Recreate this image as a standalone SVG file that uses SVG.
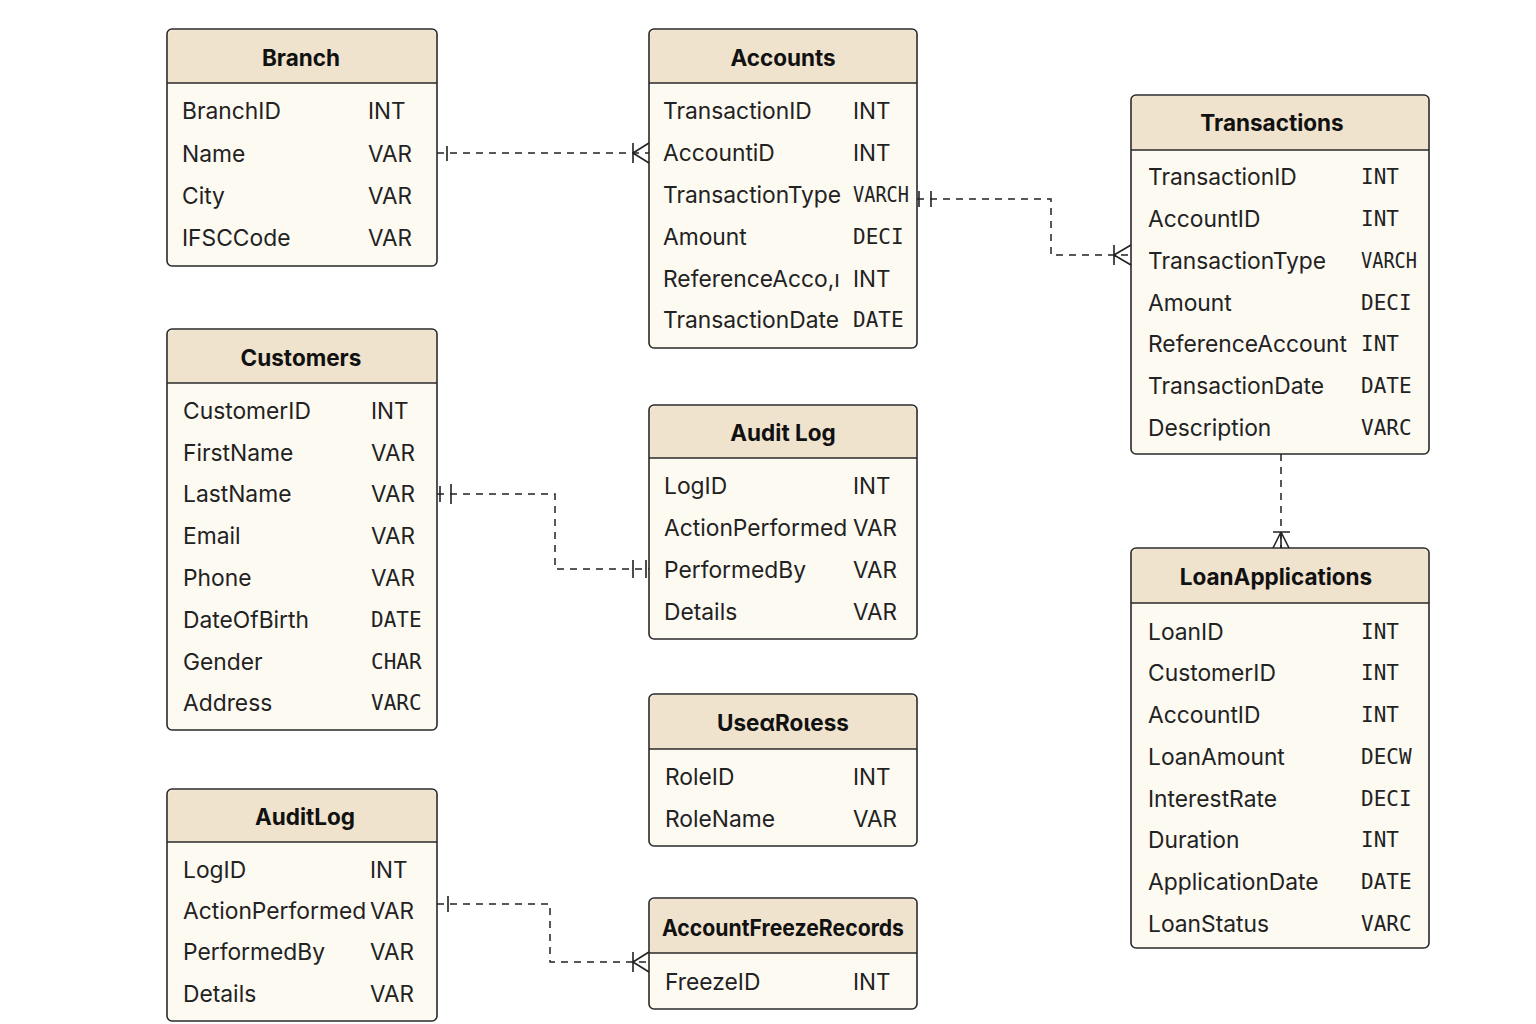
<svg xmlns="http://www.w3.org/2000/svg" width="1536" height="1024" viewBox="0 0 1536 1024">
<style>
.box{fill:#fdfaf2;stroke:#2a2a2a;stroke-width:1.6}
.hdr{fill:#efe3cd}
.sep{stroke:#2a2a2a;stroke-width:1.6}
.title{font-family:Inter,"Noto Sans",sans-serif;font-weight:700;font-size:22.5px;fill:#111;text-anchor:middle}
.f{font-family:Inter,"Noto Sans",sans-serif;font-size:22.8px;fill:#222}
.t{font-family:"DejaVu Sans Mono","Liberation Mono",monospace;font-size:21px;fill:#222}
.ts{font-family:Inter,"Noto Sans",sans-serif;font-size:22.5px;fill:#222}
.c{fill:none;stroke:#222;stroke-width:1.5;stroke-dasharray:7,6}
.m{fill:none;stroke:#222;stroke-width:1.6}
</style>
<rect width="1536" height="1024" fill="#ffffff"/>

<g id="branch">
<rect class="box" x="167" y="29" width="270" height="237" rx="5"/>
<path class="hdr" d="M168,83 V35 a5,5 0 0 1 5,-5 H431 a5,5 0 0 1 5,5 V83 Z"/>
<line class="sep" x1="167" y1="83" x2="437" y2="83"/>
<text class="title" x="301" y="66">Branch</text>
<text class="f" x="182" y="119">BranchID</text><text class="ts" x="368" y="119">INT</text>
<text class="f" x="182" y="162">Name</text><text class="ts" x="368" y="162">VAR</text>
<text class="f" x="182" y="204">City</text><text class="ts" x="368" y="204">VAR</text>
<text class="f" x="182" y="246">IFSCCode</text><text class="ts" x="368" y="246">VAR</text>
</g>

<g id="accounts">
<rect class="box" x="649" y="29" width="268" height="319" rx="5"/>
<path class="hdr" d="M650,83 V35 a5,5 0 0 1 5,-5 H911 a5,5 0 0 1 5,5 V83 Z"/>
<line class="sep" x1="649" y1="83" x2="917" y2="83"/>
<text class="title" x="783" y="66">Accounts</text>
<text class="f" x="663" y="119">TransactionID</text><text class="ts" x="853" y="119">INT</text>
<text class="f" x="663" y="161">AccountiD</text><text class="ts" x="853" y="161">INT</text>
<text class="f" x="663" y="203">TransactionType</text><text class="t" x="853" y="202" textLength="56" lengthAdjust="spacingAndGlyphs">VARCH</text>
<text class="f" x="663" y="245">Amount</text><text class="t" x="853" y="244">DECI</text>
<text class="f" x="663" y="287">ReferenceAcco,ı</text><text class="ts" x="853" y="287">INT</text>
<text class="f" x="663" y="328">TransactionDate</text><text class="t" x="853" y="327">DATE</text>
</g>

<g id="transactions">
<rect class="box" x="1131" y="95" width="298" height="359" rx="5"/>
<path class="hdr" d="M1132,150 V101 a5,5 0 0 1 5,-5 H1423 a5,5 0 0 1 5,5 V150 Z"/>
<line class="sep" x1="1131" y1="150" x2="1429" y2="150"/>
<text class="title" x="1272" y="131">Transactions</text>
<text class="f" x="1148" y="185">TransactionID</text><text class="t" x="1361" y="184">INT</text>
<text class="f" x="1148" y="227">AccountID</text><text class="t" x="1361" y="226">INT</text>
<text class="f" x="1148" y="269">TransactionType</text><text class="t" x="1361" y="268" textLength="56" lengthAdjust="spacingAndGlyphs">VARCH</text>
<text class="f" x="1148" y="311">Amount</text><text class="t" x="1361" y="310">DECI</text>
<text class="f" x="1148" y="352">ReferenceAccount</text><text class="t" x="1361" y="351">INT</text>
<text class="f" x="1148" y="394">TransactionDate</text><text class="t" x="1361" y="393">DATE</text>
<text class="f" x="1148" y="436">Description</text><text class="t" x="1361" y="435">VARC</text>
</g>

<g id="customers">
<rect class="box" x="167" y="329" width="270" height="401" rx="5"/>
<path class="hdr" d="M168,383 V335 a5,5 0 0 1 5,-5 H431 a5,5 0 0 1 5,5 V383 Z"/>
<line class="sep" x1="167" y1="383" x2="437" y2="383"/>
<text class="title" x="301" y="366">Customers</text>
<text class="f" x="183" y="419">CustomerID</text><text class="ts" x="371" y="419">INT</text>
<text class="f" x="183" y="461">FirstName</text><text class="ts" x="371" y="461">VAR</text>
<text class="f" x="183" y="502">LastName</text><text class="ts" x="371" y="502">VAR</text>
<text class="f" x="183" y="544">Email</text><text class="ts" x="371" y="544">VAR</text>
<text class="f" x="183" y="586">Phone</text><text class="ts" x="371" y="586">VAR</text>
<text class="f" x="183" y="628">DateOfBirth</text><text class="t" x="371" y="627">DATE</text>
<text class="f" x="183" y="670">Gender</text><text class="t" x="371" y="669">CHAR</text>
<text class="f" x="183" y="711">Address</text><text class="t" x="371" y="710">VARC</text>
</g>

<g id="auditlog1">
<rect class="box" x="649" y="405" width="268" height="234" rx="5"/>
<path class="hdr" d="M650,458 V411 a5,5 0 0 1 5,-5 H911 a5,5 0 0 1 5,5 V458 Z"/>
<line class="sep" x1="649" y1="458" x2="917" y2="458"/>
<text class="title" x="783" y="441">Audit Log</text>
<text class="f" x="664" y="494">LogID</text><text class="ts" x="853" y="494">INT</text>
<text class="f" x="664" y="536">ActionPerformed</text><text class="ts" x="853" y="536">VAR</text>
<text class="f" x="664" y="578">PerformedBy</text><text class="ts" x="853" y="578">VAR</text>
<text class="f" x="664" y="620">Details</text><text class="ts" x="853" y="620">VAR</text>
</g>

<g id="userroles">
<rect class="box" x="649" y="694" width="268" height="152" rx="5"/>
<path class="hdr" d="M650,749 V700 a5,5 0 0 1 5,-5 H911 a5,5 0 0 1 5,5 V749 Z"/>
<line class="sep" x1="649" y1="749" x2="917" y2="749"/>
<text class="title" x="783" y="731">UseαRoιess</text>
<text class="f" x="665" y="785">RoleID</text><text class="ts" x="853" y="785">INT</text>
<text class="f" x="665" y="827">RoleName</text><text class="ts" x="853" y="827">VAR</text>
</g>

<g id="accountfreezerecords">
<rect class="box" x="649" y="898" width="268" height="111" rx="5"/>
<path class="hdr" d="M650,953 V904 a5,5 0 0 1 5,-5 H911 a5,5 0 0 1 5,5 V953 Z"/>
<line class="sep" x1="649" y1="953" x2="917" y2="953"/>
<text class="title" x="783" y="936" textLength="242" lengthAdjust="spacingAndGlyphs">AccountFreezeRecords</text>
<text class="f" x="665" y="990">FreezeID</text><text class="ts" x="853" y="990">INT</text>
</g>

<g id="auditlog2">
<rect class="box" x="167" y="789" width="270" height="232" rx="5"/>
<path class="hdr" d="M168,842 V795 a5,5 0 0 1 5,-5 H431 a5,5 0 0 1 5,5 V842 Z"/>
<line class="sep" x1="167" y1="842" x2="437" y2="842"/>
<text class="title" x="305" y="825">AuditLog</text>
<text class="f" x="183" y="878">LogID</text><text class="ts" x="370" y="878">INT</text>
<text class="f" x="183" y="919">ActionPerformed</text><text class="ts" x="370" y="919">VAR</text>
<text class="f" x="183" y="960">PerformedBy</text><text class="ts" x="370" y="960">VAR</text>
<text class="f" x="183" y="1002">Details</text><text class="ts" x="370" y="1002">VAR</text>
</g>

<g id="loanapplications">
<rect class="box" x="1131" y="548" width="298" height="400" rx="5"/>
<path class="hdr" d="M1132,603 V554 a5,5 0 0 1 5,-5 H1423 a5,5 0 0 1 5,5 V603 Z"/>
<line class="sep" x1="1131" y1="603" x2="1429" y2="603"/>
<text class="title" x="1276" y="585">LoanApplications</text>
<text class="f" x="1148" y="640">LoanID</text><text class="t" x="1361" y="639">INT</text>
<text class="f" x="1148" y="681">CustomerID</text><text class="t" x="1361" y="680">INT</text>
<text class="f" x="1148" y="723">AccountID</text><text class="t" x="1361" y="722">INT</text>
<text class="f" x="1148" y="765">LoanAmount</text><text class="t" x="1361" y="764">DECW</text>
<text class="f" x="1148" y="807">InterestRate</text><text class="t" x="1361" y="806">DECI</text>
<text class="f" x="1148" y="848">Duration</text><text class="t" x="1361" y="847">INT</text>
<text class="f" x="1148" y="890">ApplicationDate</text><text class="t" x="1361" y="889">DATE</text>
<text class="f" x="1148" y="932">LoanStatus</text><text class="t" x="1361" y="931">VARC</text>
</g>

<g id="connectors">
<path class="c" d="M437,153 H649"/>
<path class="m" d="M447,146 V161 M633,143 V163 M633,153 L649,143 M633,153 L649,163"/>

<path class="c" d="M917,199 H1051 V255 H1131"/>
<path class="m" d="M919,191 V207 M931,191 V207 M1114,245 V265 M1114,255 L1131,245 M1114,255 L1131,265"/>

<path class="c" d="M437,494 H555 V569 H649"/>
<path class="m" d="M440,486 V502 M451,484 V504 M633,560 V578 M646,560 V578"/>

<path class="c" d="M437,904 H550 V962 H649"/>
<path class="m" d="M448,896 V912 M633,952 V972 M633,962 L649,952 M633,962 L649,972"/>

<path class="c" d="M1281,454 V548"/>
<path class="m" d="M1273,532 H1290 M1281,532 L1273,548 M1281,532 L1289,548 M1281,532 V548"/>
</g>
</svg>
